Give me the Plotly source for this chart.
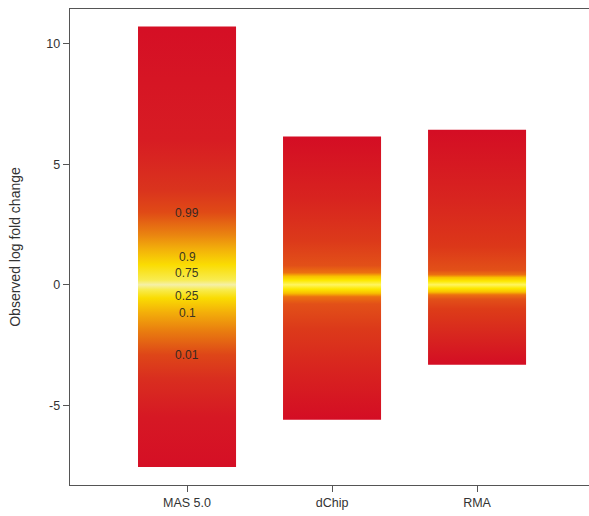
import plotly.graph_objects as go

# ---- data ----
methods = ["MAS 5.0", "dChip", "RMA"]
upper = [10.7, 6.14, 6.43]      # top of each bar (observed log fold change)
lower = [-7.55, -5.6, -3.32]    # bottom of each bar

quantile_labels = ["0.99", "0.9", "0.75", "0.25", "0.1", "0.01"]
quantile_values = [2.99, 1.16, 0.5, -0.46, -1.16, -2.9]

y_ticks = [-5, 0, 5, 10]
y_tick_text = ["-5", "0", "5", "10"]

# ---- colour profile along each bar (y value, colour) ----
RED = "#d50f25"
gradients = {
    "MAS 5.0": [(-7.55, RED), (-5.5, "#d61824"), (-3.9, "#d92e1f"), (-2.9, "#de4618"),
                (-1.9, "#e97e0f"), (-1.16, "#f3ae0a"), (-0.55, "#fadc02"),
                (-0.2, "#f8ec50"), (0.0, "#f5f0a8"), (0.2, "#f8ec50"),
                (0.83, "#fadc02"), (1.45, "#f3b20a"), (2.07, "#ea8410"),
                (3.0, "#e04a16"), (3.9, "#da341d"), (6.0, "#d71c23"), (10.7, RED)],
    "dChip": [(-5.6, "#d40d24"), (-3.5, "#d8241f"), (-1.8, "#dc3a1a"), (-0.8, "#e25018"),
              (-0.5, "#ec7010"), (-0.35, "#f8c000"), (-0.18, "#fde800"), (0.0, "#fff560"),
              (0.18, "#fde800"), (0.35, "#f8c000"), (0.5, "#ec7010"),
              (0.8, "#e25018"), (1.8, "#dc3a1a"), (3.5, "#d8241f"), (6.14, "#d40d24")],
    "RMA": [(-3.32, "#d40d24"), (-2.0, "#d8281e"), (-1.0, "#dd3c18"), (-0.6, "#e25018"),
            (-0.42, "#ec7010"), (-0.3, "#f8c000"), (-0.15, "#fde800"), (0.0, "#fff560"),
            (0.15, "#fde800"), (0.3, "#f8c000"), (0.42, "#ec7010"), (0.6, "#e25018"),
            (1.6, "#dc3719"), (3.5, "#d8251f"), (6.43, "#d40d24")],
}

half_width = 0.338
FONT = "Liberation Sans, Arial, Helvetica, sans-serif"

fig = go.Figure()
for i, (m, top, bot) in enumerate(zip(methods, upper, lower)):
    stops = gradients[m]
    cs = [[(y - bot) / (top - bot), c] for y, c in stops]
    cs[0][0] = 0.0
    cs[-1][0] = 1.0
    fig.add_trace(go.Scatter(
        x=[i - half_width, i + half_width, i + half_width, i - half_width, i - half_width],
        y=[bot, bot, top, top, bot],
        mode="lines",
        line=dict(width=0, color="rgba(0,0,0,0)"),
        fill="toself",
        fillgradient=dict(type="vertical", colorscale=cs, start=bot, stop=top),
        hoverinfo="skip",
        showlegend=False,
    ))

for lab, val in zip(quantile_labels, quantile_values):
    fig.add_annotation(x=0, y=val, text=lab, showarrow=False,
                       font=dict(family=FONT, size=12, color="rgba(35,35,35,0.9)"),
                       xanchor="center", yanchor="middle")

fig.update_layout(
    width=589, height=516,
    margin=dict(l=70, r=0, t=9, b=31),
    paper_bgcolor="white", plot_bgcolor="white",
    font=dict(family=FONT, color="#333333"),
    showlegend=False,
)
fig.update_xaxes(
    range=[-0.807, 2.772],
    tickvals=list(range(len(methods))), ticktext=methods,
    showgrid=False, zeroline=False, automargin=False,
    showline=True, linecolor="#555555", linewidth=1.3, mirror=True,
    ticks="outside", ticklen=6, tickcolor="#555555", tickwidth=1,
    tickfont=dict(size=12.5, color="#333333"),
)
fig.update_yaxes(
    range=[-8.3, 11.43],
    tickvals=y_ticks, ticktext=y_tick_text,
    showgrid=False, zeroline=False, automargin=False,
    showline=True, linecolor="#555555", linewidth=1.3,
    ticks="outside", ticklen=6, tickcolor="#555555", tickwidth=1,
    tickfont=dict(size=12.5, color="#333333"),
    title=dict(text="Observed log fold change", font=dict(size=14, color="#333333"), standoff=22),
)

fig.write_html(
    "out.html",
    config={"displayModeBar": False, "staticPlot": True},
    post_script="document.body.style.margin='0';document.body.style.overflow='hidden';",
)
